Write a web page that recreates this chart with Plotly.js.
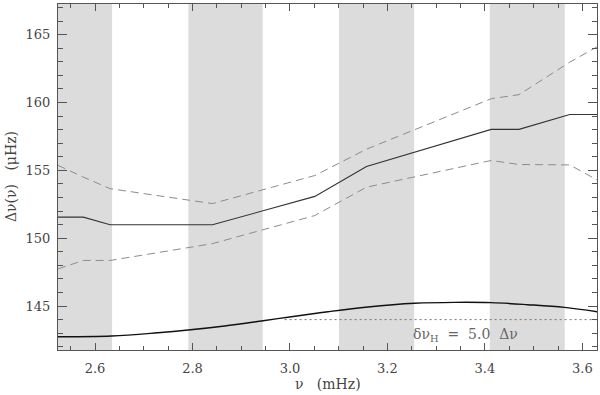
<!DOCTYPE html>
<html>
<head>
<meta charset="utf-8">
<script src="https://cdn.plot.ly/plotly-3.0.1.min.js"></script>
<style>
  html, body { margin: 0; padding: 0; background: #ffffff; }
  #chart { width: 600px; height: 395px; }
</style>
</head>
<body>
<div id="chart"></div>
<script>
/*
  Large separation Delta nu(nu) vs frequency, with the shaded bands and the
  smooth curve for delta nu_H = 5.0 Delta nu.
*/

// Knots shared by the three broken lines (mHz)
const nuKnots = [2.524, 2.576, 2.631, 2.841, 3.051, 3.157, 3.413, 3.470, 3.574, 3.630];
const dnuMean = [151.55, 151.55, 150.99, 150.99, 153.08, 155.29, 158.02, 158.02, 159.12, 159.12];
const dnuUpper = [155.37, 154.50, 153.65, 152.55, 154.62, 156.56, 160.28, 160.58, 162.97, 164.10];
const dnuLower = [147.74, 148.36, 148.36, 149.60, 151.67, 153.76, 155.73, 155.43, 155.40, 154.30];

// Smooth curve at the bottom
const nuCurve = [2.524, 2.634, 2.729, 2.791, 2.866, 2.945, 3.003, 3.078, 3.160, 3.256, 3.338, 3.413, 3.488, 3.563, 3.631];
const dnuCurve = [142.74, 142.79, 143.03, 143.23, 143.53, 143.92, 144.21, 144.58, 144.93, 145.20, 145.27, 145.25, 145.10, 144.90, 144.58];

// Dotted reference level
const nuLevel = [2.989, 3.630];
const dnuLevel = [144.0, 144.0];

// Gray bands (mHz)
const bandStart = [2.524, 2.7915, 3.1005, 3.410];
const bandEnd = [2.635, 2.944, 3.2548, 3.5638];

const serif = 'DejaVu Serif, Liberation Serif, serif';
const NBSP = '\u00a0';

function drawChart(chartId) {
    const traces = [
        {
            x: nuKnots, y: dnuUpper, type: 'scatter', mode: 'lines',
            line: { color: '#8c8c8c', width: 1, dash: '8px,5px' },
        },
        {
            x: nuKnots, y: dnuLower, type: 'scatter', mode: 'lines',
            line: { color: '#8c8c8c', width: 1, dash: '8px,5px' },
        },
        {
            x: nuKnots, y: dnuMean, type: 'scatter', mode: 'lines',
            line: { color: '#333333', width: 1.1 },
        },
        {
            x: nuCurve, y: dnuCurve, type: 'scatter', mode: 'lines',
            line: { color: '#111111', width: 1.4, shape: 'spline' },
        },
        {
            x: nuLevel, y: dnuLevel, type: 'scatter', mode: 'lines',
            line: { color: '#777777', width: 1, dash: '2px,3px' },
        },
    ];

    // shaded bands behind the data
    const shapes = bandStart.map((x0, i) => ({
        type: 'rect', xref: 'x', yref: 'paper',
        x0: x0, x1: bandEnd[i], y0: 0, y1: 1,
        fillcolor: '#dcdcdc', line: { width: 0 }, layer: 'below',
    }));

    const axisCommon = {
        showline: true, linecolor: '#555555', linewidth: 1,
        mirror: 'allticks', ticks: 'inside', tickcolor: '#555555',
        showgrid: false, zeroline: false,
        tickfont: { family: serif, size: 13, color: '#444444' },
    };

    const layout = {
        width: 600, height: 395,
        margin: { l: 58, r: 3, t: 4, b: 45 },
        showlegend: false,
        paper_bgcolor: '#ffffff',
        plot_bgcolor: '#ffffff',
        xaxis: Object.assign({}, axisCommon, {
            range: [2.524, 3.630],
            tick0: 2.6, dtick: 0.2, tickformat: '.1f', ticklen: 7,
            ticklabelstandoff: 6,
            minor: { ticks: 'inside', dtick: 0.05, ticklen: 4, tickcolor: '#555555' },
        }),
        yaxis: Object.assign({}, axisCommon, {
            range: [141.76, 167.26],
            tick0: 145, dtick: 5, ticklen: 9,
            ticklabelstandoff: 4,
            minor: { ticks: 'inside', dtick: 1, ticklen: 5, tickcolor: '#555555' },
        }),
        shapes: shapes,
        annotations: [
            {
                text: 'ν' + NBSP.repeat(3) + '(mHz)',
                xref: 'paper', yref: 'paper', x: 0.5, y: 0,
                xanchor: 'center', yanchor: 'middle', yshift: -34,
                showarrow: false, font: { family: serif, size: 14, color: '#444444' },
            },
            {
                text: 'Δν(ν)' + NBSP.repeat(3) + '(μHz)',
                xref: 'paper', yref: 'paper', x: 0, y: 0.5,
                xanchor: 'center', yanchor: 'middle', xshift: -47,
                textangle: -90,
                showarrow: false, font: { family: serif, size: 14, color: '#444444' },
            },
            {
                text: 'δν<sub>H</sub>' + NBSP.repeat(2) + '=' + NBSP.repeat(2) + '5.0' + NBSP.repeat(2) + 'Δν',
                xref: 'x', yref: 'y', x: 3.36, y: 142.9,
                showarrow: false, font: { family: serif, size: 14, color: '#666666' },
            },
        ],
    };

    Plotly.newPlot(chartId, traces, layout, { staticPlot: true });
}

drawChart('chart');
</script>
</body>
</html>
